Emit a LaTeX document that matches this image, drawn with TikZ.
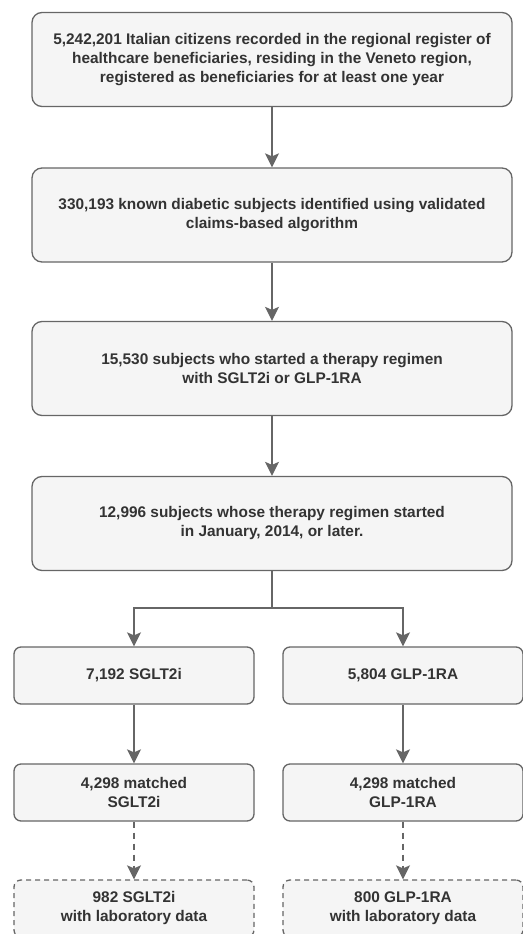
\documentclass[tikz,border=0pt]{standalone}
\usepackage{fontspec}
\setmainfont{Liberation Sans}
\usetikzlibrary{arrows.meta}
\definecolor{edge}{HTML}{666666}
\definecolor{boxfill}{HTML}{F5F5F5}
\definecolor{txt}{HTML}{333333}
\begin{document}
\begin{tikzpicture}[x=1pt,y=-1pt,
  flowbox/.style={draw=edge, fill=boxfill, line width=1.3pt, rounded corners=10pt,
    text=txt, font=\fontsize{15.4}{19}\selectfont\bfseries, align=center, inner sep=0pt},
  bigbox/.style={flowbox, minimum width=480pt, minimum height=94pt},
  smallbox/.style={flowbox, minimum width=240pt, minimum height=57pt, rounded corners=7pt},
  dashbox/.style={smallbox, dash pattern=on 5pt off 4pt},
  conn/.style={draw=edge, line width=1.5pt, -{Stealth[width=14pt,length=14pt,inset=3pt]}},
  dconn/.style={conn, dash pattern=on 6pt off 5pt}
]
\useasboundingbox (0,0) rectangle (522,934);
\node[bigbox] (b1) at (272,59.5) {5,242,201 Italian citizens recorded in the regional register of\\healthcare beneficiaries, residing in the Veneto region,\\registered as beneficiaries for at least one year};
\node[bigbox] (b2) at (272,215) {330,193 known diabetic subjects identified using validated\\claims-based algorithm};
\node[bigbox] (b3) at (272,368.5) {15,530 subjects who started a therapy regimen\\with SGLT2i or GLP-1RA};
\node[bigbox] (b4) at (272,523.5) {12,996 subjects whose therapy regimen started\\in January, 2014, or later.};
\node[smallbox] (s1) at (134,675.5) {7,192 SGLT2i};
\node[smallbox] (g1) at (403,675.5) {5,804 GLP-1RA};
\node[smallbox] (s2) at (134,792.5) {4,298 matched\\SGLT2i};
\node[smallbox] (g2) at (403,792.5) {4,298 matched\\GLP-1RA};
\node[dashbox] (s3) at (134,908.5) {982 SGLT2i\\with laboratory data};
\node[dashbox] (g3) at (403,908.5) {800 GLP-1RA\\with laboratory data};
\coordinate (j) at (272,608);
\draw[conn] (b1) -- (b2);
\draw[conn] (b2) -- (b3);
\draw[conn] (b3) -- (b4);
\draw[draw=edge, line width=1.5pt] (b4.south) -- (j);
\draw[conn] (j) -| (s1.north);
\draw[conn] (j) -| (g1.north);
\draw[conn] (s1) -- (s2);
\draw[conn] (g1) -- (g2);
\draw[dconn] (s2) -- (s3);
\draw[dconn] (g2) -- (g3);
\end{tikzpicture}
\end{document}
